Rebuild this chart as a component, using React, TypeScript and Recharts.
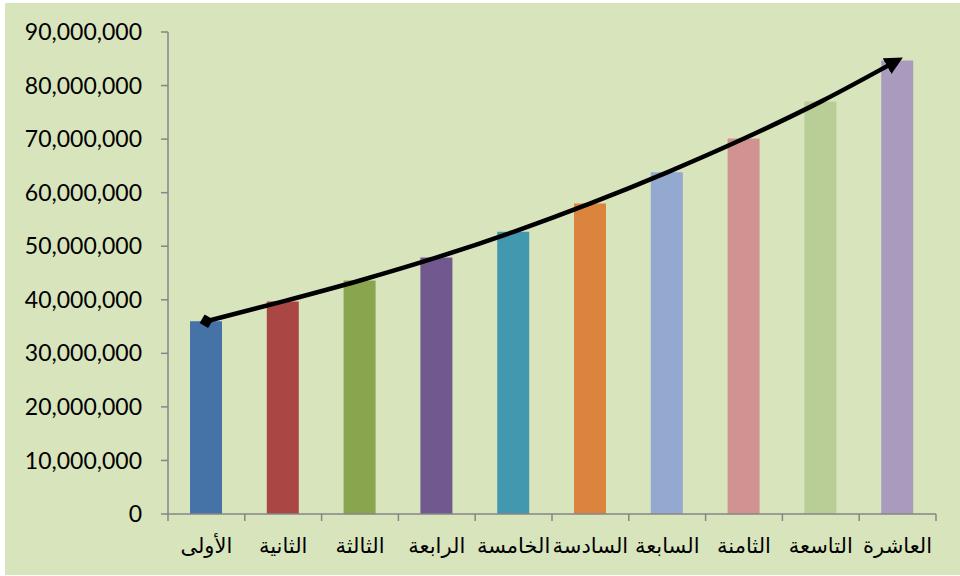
import React from 'react';
import { ComposedChart, Bar, Line, Cell, XAxis, YAxis } from 'recharts';

const LABELS = ['الأولى', 'الثانية', 'الثالثة', 'الرابعة', 'الخامسة', 'السادسة', 'السابعة', 'الثامنة', 'التاسعة', 'العاشرة'];
const VALUES = [36000000, 39700000, 43600000, 47900000, 52700000, 58000000, 63800000, 70100000, 77000000, 84700000];
const COLORS = ['#4572a7', '#aa4643', '#89a54e', '#71588f', '#4198af', '#db843d', '#93a9cf', '#d19392', '#b9cd96', '#a99bbd'];
const Y_TICKS = [0, 10000000, 20000000, 30000000, 40000000, 50000000, 60000000, 70000000, 80000000, 90000000];

const data = LABELS.map((name, i) => ({ name, value: VALUES[i] }));

const AXIS = '#868686';

// Excel style: tick marks sit between categories, label in the middle
const CategoryTick = (props: any) => {
  const { x, y, payload, index } = props;
  const half = payload?.offset || 38.4;
  return (
    <g>
      <line x1={x - half} y1={y} x2={x - half} y2={y + 7} stroke={AXIS} strokeWidth={1.5} />
      {index === LABELS.length - 1 && (
        <line x1={x + half} y1={y} x2={x + half} y2={y + 7} stroke={AXIS} strokeWidth={1.5} />
      )}
      <text x={x} y={y + 39} textAnchor="middle" fill="#000" fontSize={21} fontFamily="DejaVu Sans">
        {payload.value}
      </text>
    </g>
  );
};

export default function App() {
  return (
    <div style={{ position: 'absolute', left: 0, top: 0, width: 960, height: 576, background: '#fff' }}>
      <div style={{ position: 'absolute', left: 5, top: 3, width: 955, height: 572, background: '#d8e4bc' }} />
      <div style={{ position: 'absolute', left: 0, top: 0 }}>
        <ComposedChart width={960} height={576} data={data} margin={{ top: 32, right: 24, left: 18, bottom: 22 }}>
          <defs>
            <marker id="arrowEnd" markerUnits="userSpaceOnUse" markerWidth="20" markerHeight="20" viewBox="0 0 20 20" refX="12" refY="9" orient="auto">
              <path d="M0,0 L18,9 L0,18 z" fill="#000" />
            </marker>
            <marker id="diamondStart" markerUnits="userSpaceOnUse" markerWidth="16" markerHeight="16" viewBox="0 0 16 16" refX="8" refY="8" orient="auto">
              <path d="M1,8 L8,1 L15,8 L8,15 z" fill="#000" />
            </marker>
          </defs>
          <XAxis dataKey="name" height={40} axisLine={{ stroke: AXIS, strokeWidth: 1.5 }} tickLine={false} tickSize={0} tickMargin={0}
            interval={0} tick={<CategoryTick />} />
          <YAxis domain={[0, 90000000]} ticks={Y_TICKS} width={150} tickSize={7} tickMargin={19}
            axisLine={{ stroke: AXIS, strokeWidth: 1.5 }} tickLine={{ stroke: AXIS, strokeWidth: 1.5 }}
            tick={{ fill: '#000', fontSize: 23, fontFamily: 'Lato' }}
            tickFormatter={v => v.toLocaleString('en-US')} />
          <Bar dataKey="value" barSize={32} isAnimationActive={false}>
            {data.map((d, i) => <Cell key={d.name} fill={COLORS[i]} />)}
          </Bar>
          <Line type="monotone" dataKey="value" stroke="#000" strokeWidth={4.5} dot={false} activeDot={false}
            markerStart="url(#diamondStart)" markerEnd="url(#arrowEnd)" isAnimationActive={false} />
        </ComposedChart>
      </div>
    </div>
  );
}
